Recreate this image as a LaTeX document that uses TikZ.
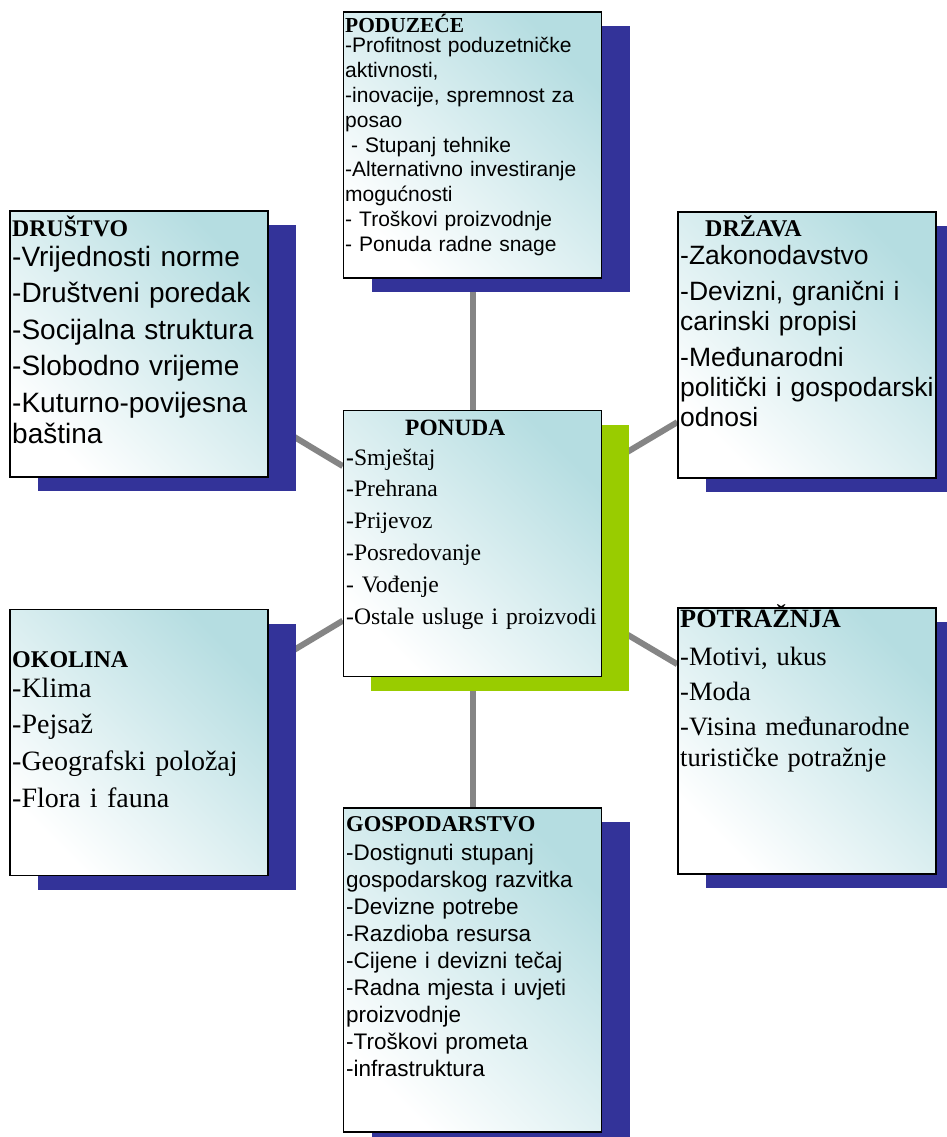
\documentclass[tikz,border=0pt]{standalone}
\usepackage{fontspec}
\setmainfont{Liberation Serif}
\newfontfamily\arialfont{Liberation Sans}
\usetikzlibrary{shadows,
                backgrounds}
\definecolor{boxteal}{HTML}{B5DDE1}
\definecolor{shadowblue}{HTML}{333399}
\definecolor{shadowgreen}{HTML}{99CC00}
\definecolor{linkgray}{HTML}{858585}
\lineskiplimit=-20pt
\tikzset{box/.style =
   {rectangle,
    draw=black,
    line width=1.4pt,
    inner sep=0pt,
    minimum width=258pt,
    minimum height=266pt,
    top color=boxteal,
    bottom color=white,
    shading angle=-45}}
\tikzset{bluebox/.style =
   {box,
    drop shadow={shadow xshift=28pt,
                 shadow yshift=-14pt,
                 fill=shadowblue,
                 opacity=1}}}
\tikzset{greenbox/.style =
   {box,
    drop shadow={shadow xshift=27pt,
                 shadow yshift=-14pt,
                 fill=shadowgreen,
                 opacity=1}}}
\tikzset{boxtext/.style =
   {anchor=base west,
    align=left,
    inner sep=0pt,
    text width=270pt}}
\tikzset{link/.style = {draw=linkgray, line width=6pt}}
\newcommand{\boxhead}[2]{{\rmfamily\bfseries\fontsize{#1}{#1}\selectfont #2}}
\newcommand{\sanssize}[2]{\arialfont\fontsize{#1}{#2}\selectfont}
\newcommand{\serifsize}[2]{\rmfamily\fontsize{#1}{#2}\selectfont}

\begin{document}
\begin{tikzpicture}[x=1pt, y=-1pt]

    \path [use as bounding box] (0,0) rectangle (947,1137);

    \node [bluebox] (poduzece) at (472.5,145) {};
    \node [bluebox] (drustvo) at (139,344) {};
    \node [bluebox] (drzava) at (807,345) {};
    \node [greenbox] (ponuda) at (472.5,543.5) {};
    \node [bluebox] (okolina) at (139,742.5) {};
    \node [bluebox] (potraznja) at (807,741) {};
    \node [bluebox,
           minimum height=324pt] (gospodarstvo) at (472.5,970) {};

    \node [boxtext, font=\sanssize{21}{24.8}] (poduzeceText)
          at (345,33)
    {\boxhead{21.4}{PODUZEĆE}\\[-4.8pt]
     -Profitnost poduzetničke\\
     aktivnosti,\\
     -inovacije, spremnost za\\
     posao\\
     \hspace*{0.28em}- Stupanj tehnike\\
     -Alternativno investiranje\\
     mogućnosti\\
     - Troškovi proizvodnje\\
     - Ponuda radne snage};

    \node [boxtext, font=\sanssize{28}{31}] (drustvoText)
          at (12,236)
    {\boxhead{23.8}{DRUŠTVO}\\[-1pt]
     -Vrijednosti norme\\[5.5pt]
     -Društveni poredak\\[5.5pt]
     -Socijalna struktura\\[5.5pt]
     -Slobodno vrijeme\\[5.5pt]
     -Kuturno-povijesna\\
     baština};

    \node [boxtext, font=\sanssize{26.5}{30}] (drzavaText)
          at (680,236)
    {\hspace*{25pt}\boxhead{24}{DRŽAVA}\\[-2pt]
     -Zakonodavstvo\\[6pt]
     -Devizni, granični i\\
     carinski propisi\\[6pt]
     -Međunarodni\\
     politički i gospodarski\\
     odnosi};

    \node [boxtext, font=\serifsize{23.6}{31.8}] (ponudaText)
          at (346,435)
    {\hspace*{59pt}\boxhead{23.4}{PONUDA}\\[-1.8pt]
     \textbf{-}Smještaj\\
     -Prehrana\\
     -Prijevoz\\
     -Posredovanje\\
     - Vođenje\\
     -Ostale usluge i proizvodi};

    \node [boxtext, font=\serifsize{28}{36.7}] (okolinaText)
          at (12,667)
    {\boxhead{24}{OKOLINA}\\[-6.7pt]
     -Klima\\
     -Pejsaž\\
     -Geografski položaj\\
     -Flora i fauna};

    \node [boxtext, font=\serifsize{26.5}{31}] (potraznjaText)
          at (680,627)
    {\boxhead{26.3}{POTRAŽNJA}\\[7pt]
     -Motivi, ukus\\[4pt]
     -Moda\\[4pt]
     -Visina međunarodne\\
     turističke potražnje};

    \node [boxtext, font=\sanssize{22.5}{27}] (gospodarstvoText)
          at (346,831)
    {\boxhead{22.6}{GOSPODARSTVO}\\[2pt]
     -Dostignuti stupanj\\
     gospodarskog razvitka\\
     -Devizne potrebe\\
     -Razdioba resursa\\
     -Cijene i devizni tečaj\\
     -Radna mjesta i uvjeti\\
     proizvodnje\\
     -Troškovi prometa\\
     -infrastruktura};

    \begin{pgfonlayer}{background}
        \draw [link] (poduzece) -- (ponuda);
        \draw [link] (ponuda) -- (gospodarstvo);
        \draw [link] (drustvo) -- (ponuda);
        \draw [link] (drzava) -- (ponuda);
        \draw [link] (okolina) -- (ponuda);
        \draw [link] (potraznja) -- (ponuda);
    \end{pgfonlayer}

\end{tikzpicture}
\end{document}
